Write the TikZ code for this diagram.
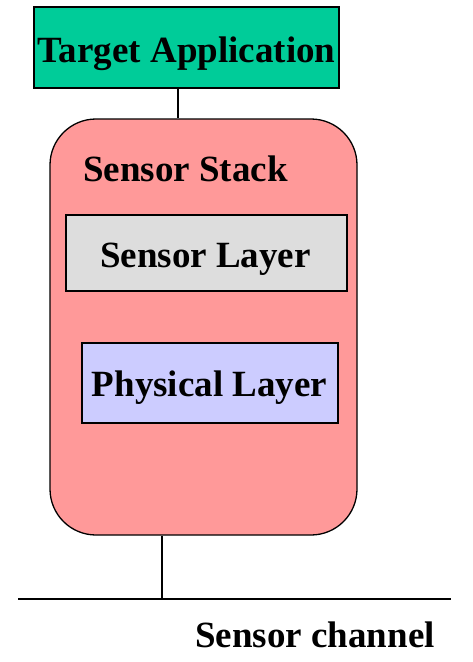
\documentclass[tikz,border=0pt]{standalone}
\usepackage{fontspec}
\setmainfont{Liberation Serif}
\begin{document}
\begin{tikzpicture}[x=1pt,y=-1pt,
  box/.style={draw=black,line width=1.3pt,inner sep=0pt,rectangle},
  lbl/.style={anchor=base,inner sep=0pt,font=\fontsize{37}{40}\selectfont\bfseries},
  wire/.style={draw=black,line width=1.3pt}]
\useasboundingbox (0,0) rectangle (473,662);
\definecolor{appgreen}{HTML}{00CC99}
\definecolor{stackpink}{HTML}{FF9999}
\definecolor{layergray}{HTML}{DDDDDD}
\definecolor{physblue}{HTML}{CCCCFF}
% boxes
\node[box,fill=appgreen,minimum width=305pt,minimum height=81pt] (app) at (186.5,47.5) {};
\node[box,fill=stackpink,rounded corners=46pt,minimum width=307pt,minimum height=416pt] (stack) at (203.5,327) {};
\node[box,fill=layergray,minimum width=281pt,minimum height=76pt] (sensor) at (206.5,253) {};
\node[box,fill=physblue,minimum width=256pt,minimum height=80pt] (phys) at (210,383) {};
% labels
\node[lbl] (appt) at (186.5,62) {Target Application};
\node[lbl,anchor=base west] (stackt) at (83,181) {Sensor Stack};
\node[lbl] (sensort) at (205.5,267) {Sensor Layer};
\node[lbl] (physt) at (209.5,396) {Physical Layer};
\node[lbl] (chant) at (315,647) {Sensor channel};
% connectors
\coordinate (c1) at (178,0);
\coordinate (c2) at (162,0);
\coordinate (chL) at (18,599);
\coordinate (chR) at (451,599);
\draw[wire] (c1 |- app.south) -- (c1 |- stack.north);
\draw[wire] (chL) -- (chR);
\draw[wire] (c2 |- stack.south) -- (c2 |- chL);
\end{tikzpicture}
\end{document}
